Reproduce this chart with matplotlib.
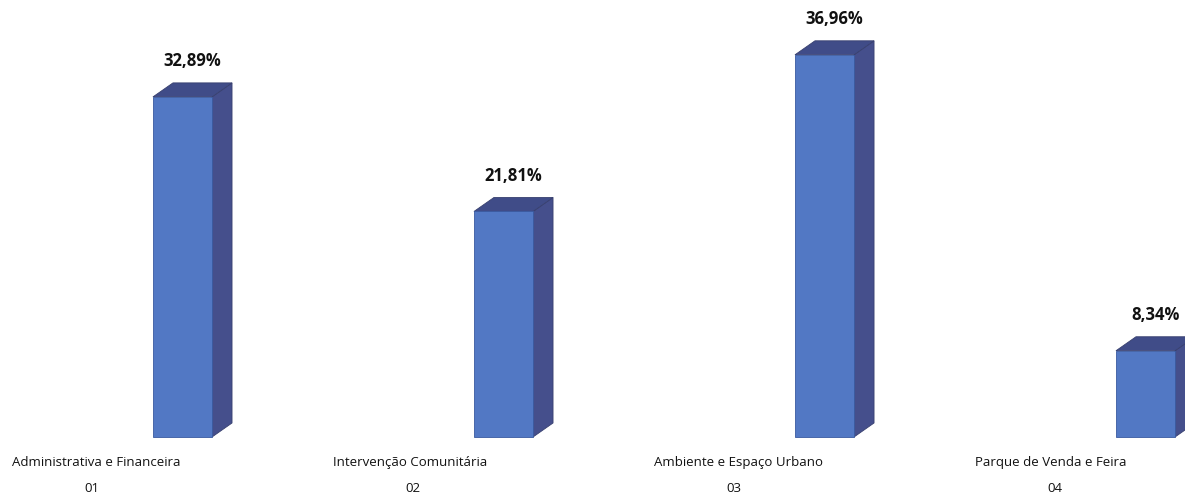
import matplotlib
matplotlib.use("Agg")
from matplotlib import pyplot as plt
from matplotlib.patches import Polygon

categories = ["Administrativa e Financeira", "Intervenção Comunitária",
              "Ambiente e Espaço Urbano", "Parque de Venda e Feira"]
codes = ["01", "02", "03", "04"]
values = [32.89, 21.81, 36.96, 8.34]
value_labels = ["32,89%", "21,81%", "36,96%", "8,34%"]

front_c = "#5278c4"
side_c = "#454f8c"
top_c = "#404c88"

fig = plt.figure(figsize=(11.85, 4.93), dpi=100)
ax = fig.add_axes([0, 0, 1, 1])
ax.set_xlim(-0.5685, 3.123)
ax.set_ylim(-5.416, 42.26)
ax.axis("off")

w = 0.184    # bar width
dx = 0.0623  # depth in x
dy = 1.354   # depth in y

for i, v in enumerate(values):
    x0 = i - w / 2
    x1 = i + w / 2
    ax.bar(i, v, width=w, color=front_c, edgecolor="#3a5aa0", linewidth=0.6, zorder=3)
    side = Polygon([(x1, 0), (x1 + dx, dy), (x1 + dx, v + dy), (x1, v)],
                   closed=True, facecolor=side_c, edgecolor="#38406f", linewidth=0.6, zorder=2)
    top = Polygon([(x0, v), (x0 + dx, v + dy), (x1 + dx, v + dy), (x1, v)],
                  closed=True, facecolor=top_c, edgecolor="#38406f", linewidth=0.6, zorder=2)
    ax.add_patch(side)
    ax.add_patch(top)
    ax.text(i + dx / 2, v + dy + 1.2, value_labels[i], ha="center", va="bottom",
            fontsize=12, fontweight="bold", family="Open Sans", color="#111111")
    ax.text(i - 0.53, -2.5, categories[i], ha="left", va="center",
            fontsize=9.5, family="Open Sans", color="#111111")
    ax.text(i - 0.282, -5.0, codes[i], ha="center", va="center",
            fontsize=9.5, family="Open Sans", color="#111111")

fig.savefig("out.png", dpi=100)
